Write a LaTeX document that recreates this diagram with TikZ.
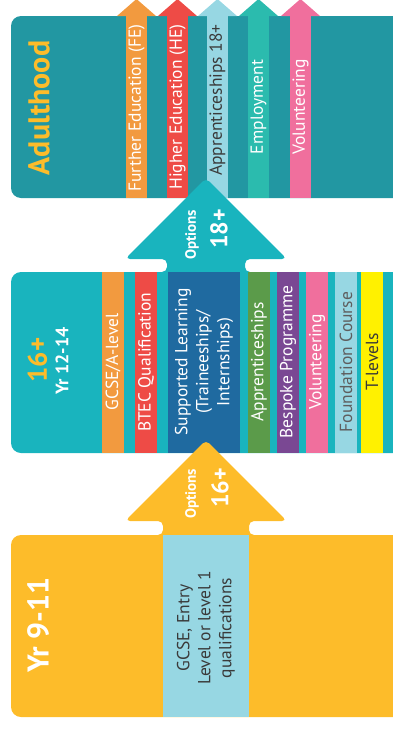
\documentclass[tikz,border=0pt]{standalone}
\usepackage{fontspec}
\setmainfont{PT Sans}

\definecolor{topteal}{HTML}{2297A2}
\definecolor{midteal}{HTML}{19B4BE}
\definecolor{yellowbox}{HTML}{FDBC2A}
\definecolor{fe}{HTML}{F29A3F}
\definecolor{he}{HTML}{EE4B46}
\definecolor{paleblue}{HTML}{97D7E3}
\definecolor{empl}{HTML}{2BBBAE}
\definecolor{vol}{HTML}{F06F9D}
\definecolor{supp}{HTML}{1F6AA0}
\definecolor{appr}{HTML}{5B9B4A}
\definecolor{bespoke}{HTML}{7A4893}
\definecolor{tlev}{HTML}{FFF100}
\definecolor{darktext}{HTML}{3A3A3A}
\definecolor{graytext}{HTML}{5E5E5E}

\begin{document}
\begin{tikzpicture}[
    x=1pt, y=-1pt,
    stage/.style={rounded corners=10},
    optarrow/.style={rounded corners=5},
    striptext/.style={rotate=90, inner sep=0pt, text=white,
      font=\fontsize{17.5}{21}\selectfont},
    title/.style={rotate=90, inner sep=0pt, font=\bfseries}
    ]

    \useasboundingbox (0,0) rectangle (393,731);
    \clip (0,0) rectangle (393,731);

    % adulthood box:
    \fill[topteal, stage] (11,16) rectangle (420,198);
    \foreach \x/\c in {126/fe, 167/he, 207/paleblue, 248/empl, 290/vol}{
      \fill[\c] (\x-9,16) -- (\x+10.5,-1) -- (\x+30,16) -- cycle;
      \fill[\c] (\x,16) rectangle ++(21,182);
    }

    % middle box:
    \fill[midteal, stage] (11,272) rectangle (420,453);

    % options 18+ arrow:
    \fill[midteal, optarrow] (206,285) -- (140,285) -- (140,272) -- (167,272)
      -- (167,259) -- (125,259) -- (206,178) -- (287,259) -- (245,259)
      -- (245,272) -- (272,272) -- (272,285) -- cycle;

    \foreach \x/\c in {102/fe, 135/he, 248/appr, 277/bespoke, 306/vol, 335/paleblue, 361/tlev}
      \fill[\c] (\x,272) rectangle ++(22,181);
    \fill[supp] (168,272) rectangle (240,453);

    % bottom box:
    \fill[yellowbox, stage] (11,535) rectangle (420,717);

    % options 16+ arrow:
    \fill[yellowbox, optarrow] (206,548) -- (136,548) -- (136,535) -- (163,535)
      -- (163,521) -- (125,521) -- (206,440) -- (287,521) -- (249,521)
      -- (249,535) -- (276,535) -- (276,548) -- cycle;
    \fill[paleblue] (163,535) rectangle (249,717);

    % labels:
    \node[title, text=yellowbox, font=\bfseries\fontsize{30}{30}\selectfont] (adult) at (39,108) {Adulthood};
    \foreach \x/\y/\tc/\t [count=\i] in {126/108/white/{Further Education (FE)},
        167/107/white/{Higher Education (HE)}, 207/100/darktext/{Apprenticeships 18+},
        248/107/white/Employment, 290/107/white/Volunteering}
      \node[striptext, text=\tc] (top\i) at (\x+10.5,\y) {\t};

    \node[title, text=white, font=\bfseries\fontsize{15}{15}\selectfont] (opt18a) at (192,235) {Options};
    \node[title, text=white, font=\bfseries\fontsize{24}{24}\selectfont] (opt18b) at (219,229) {18+};

    \node[title, text=yellowbox, font=\bfseries\fontsize{27}{27}\selectfont] (mid16) at (37.5,360) {16+};
    \node[title, text=white, font=\bfseries\fontsize{18}{18}\selectfont] (midyr) at (62,361) {Yr 12-14};
    \foreach \x/\tc/\t [count=\i] in {102/white/{GCSE/A-level}, 135/white/{BTEC Qualification},
        248/white/Apprenticeships, 277/white/{Bespoke Programme}, 306/white/Volunteering,
        335/graytext/{Foundation Course}, 361/darktext/T-levels}
      \node[striptext, text=\tc] (mid\i) at (\x+11,362) {\t};
    \node[striptext, align=center] (supported) at (204,362)
      {Supported Learning\\(Traineeships/\\Internships)};

    \node[title, text=white, font=\bfseries\fontsize{15}{15}\selectfont] (opt16a) at (192,494) {Options};
    \node[title, text=white, font=\bfseries\fontsize{24}{24}\selectfont] (opt16b) at (220,488) {16+};

    \node[title, text=white, font=\bfseries\fontsize{30}{30}\selectfont] (yr911) at (38,625) {Yr 9-11};
    \node[striptext, text=darktext, align=center] (quals) at (206,628)
      {GCSE, Entry\\Level or level 1\\qualifications};

\end{tikzpicture}
\end{document}
